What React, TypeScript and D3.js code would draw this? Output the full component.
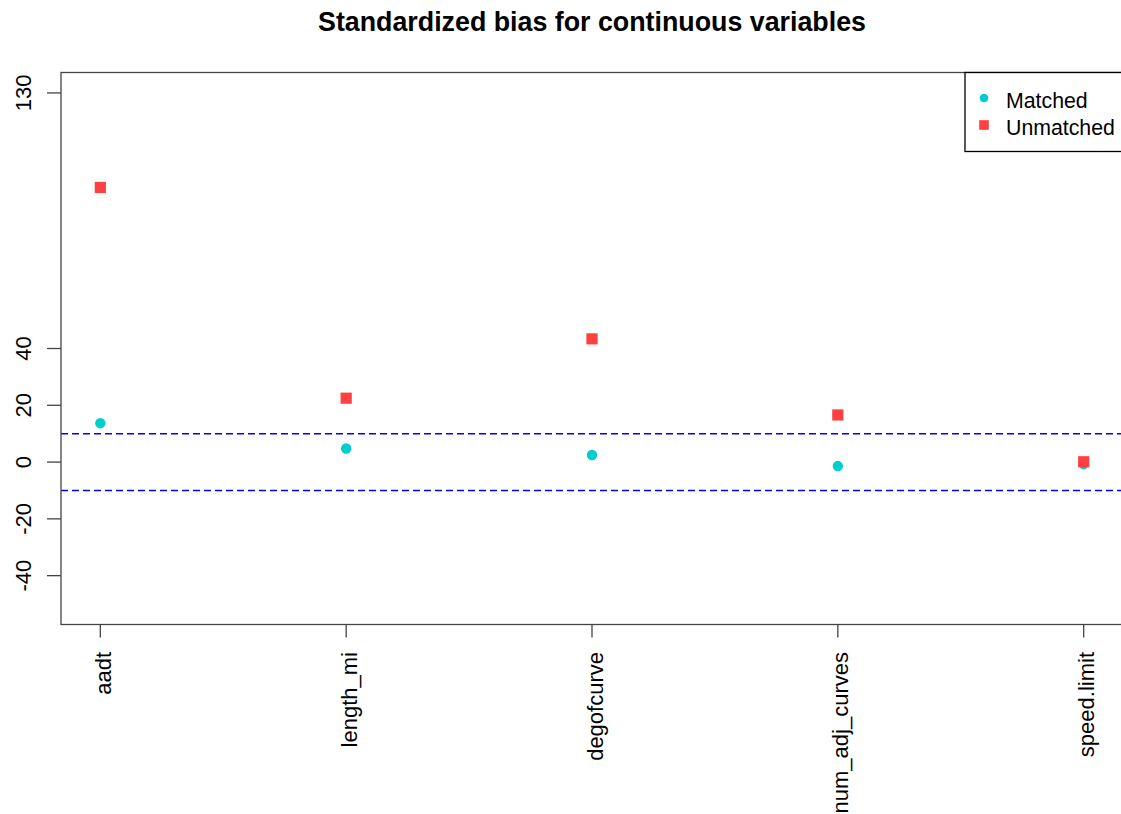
import { useEffect } from 'react';
import * as d3 from 'd3';

const variables = ['aadt', 'length_mi', 'degofcurve', 'num_adj_curves', 'speed.limit'];
const matched = [13.7, 4.8, 2.5, -1.4, -0.7];
const unmatched = [96.7, 22.5, 43.4, 16.6, 0.1];
const yTicks = [130, 40, 20, 0, -20, -40];
const thresholds = [10, -10];
const legendItems = [
  { label: 'Matched', color: '#00CDCD', shape: 'circle' },
  { label: 'Unmatched', color: '#FF4040', shape: 'square' },
];

const W = 1121;
const H = 814;
const FONT = '"Liberation Sans", Arial, sans-serif';
const AXIS = '#444';

export default function App() {
  useEffect(() => {
    document.body.style.margin = '0';
  }, []);

  const left = 61;
  const right = 1123;
  const top = 72.5;
  const bottom = 624.5;

  // R-style 4% extension of the range
  const x = d3.scaleLinear().domain([0.84, 5.16]).range([left, right]);
  const y = d3.scaleLinear().domain([-57.2, 137.2]).range([bottom, top]);

  return (
    <svg width={W} height={H} style={{ display: 'block', background: '#fff' }} fontFamily={FONT}>
      <defs>
        <clipPath id="plot">
          <rect x={left} y={top} width={right - left} height={bottom - top} />
        </clipPath>
      </defs>

      {/* Title */}
      <text x={(left + right) / 2} y={31} textAnchor="middle" fontSize={26.8} fontWeight="bold" fill="#000">
        Standardized bias for continuous variables
      </text>

      {/* Threshold lines */}
      <g clipPath="url(#plot)">
        {thresholds.map((t) => (
          <line
            key={t}
            x1={left}
            x2={right}
            y1={y(t)}
            y2={y(t)}
            stroke="#0000FF"
            strokeWidth={1.4}
            strokeDasharray="7,4"
          />
        ))}
      </g>

      {/* Points */}
      {matched.map((v, i) => (
        <circle key={'m' + i} cx={x(i + 1)} cy={y(v)} r={5.2} fill={legendItems[0].color} />
      ))}
      {unmatched.map((v, i) => (
        <rect
          key={'u' + i}
          x={x(i + 1) - 5.6}
          y={y(v) - 5.6}
          width={11.2}
          height={11.2}
          fill={legendItems[1].color}
        />
      ))}

      {/* Box */}
      <rect x={left} y={top} width={right - left} height={bottom - top} fill="none" stroke={AXIS} strokeWidth={1.3} />

      {/* Y axis */}
      {yTicks.map((t) => (
        <g key={t}>
          <line x1={left - 14} x2={left} y1={y(t)} y2={y(t)} stroke={AXIS} strokeWidth={1.3} />
          <text
            transform={`translate(30.5,${y(t)}) rotate(-90)`}
            textAnchor="middle"
            fontSize={22}
            fill="#000"
          >
            {t}
          </text>
        </g>
      ))}

      {/* X axis */}
      {variables.map((v, i) => (
        <g key={v}>
          <line x1={x(i + 1)} x2={x(i + 1)} y1={bottom} y2={bottom + 13} stroke={AXIS} strokeWidth={1.3} />
          <text
            transform={`translate(${x(i + 1) + 10.5},652) rotate(-90)`}
            textAnchor="end"
            fontSize={22}
            fill="#000"
          >
            {v}
          </text>
        </g>
      ))}

      {/* Legend */}
      <rect x={965} y={top} width={170} height={79} fill="#fff" stroke="#000" strokeWidth={1.3} />
      {legendItems.map((d, i) => {
        const cy = 98 + i * 27;
        return (
          <g key={d.label}>
            {d.shape === 'circle' ? (
              <circle cx={984} cy={cy} r={4.3} fill={d.color} />
            ) : (
              <rect x={984 - 4.8} y={cy - 4.8} width={9.6} height={9.6} fill={d.color} />
            )}
            <text x={1006} y={cy + 10} fontSize={21.3} fill="#000">
              {d.label}
            </text>
          </g>
        );
      })}
    </svg>
  );
}
